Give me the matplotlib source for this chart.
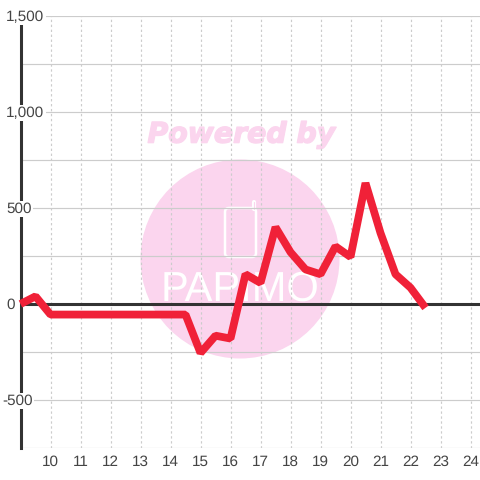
import matplotlib
matplotlib.use("Agg")
import matplotlib.pyplot as plt
import matplotlib.patheffects as pe
from matplotlib.patches import Circle, FancyBboxPatch

# half hour steps, starting at 9:00
hours = [9, 9.5, 10, 10.5, 11, 11.5, 12, 12.5, 13, 13.5, 14, 14.5, 15, 15.5, 16, 16.5,
         17, 17.5, 18, 18.5, 19, 19.5, 20, 20.5, 21, 21.5, 22, 22.5]
values = [0, 40, -55, -55, -55, -55, -55, -55, -55, -55, -55, -55, -255, -165, -180, 155,
          110, 400, 270, 180, 155, 300, 245, 630, 370, 155, 85, -20]

x_ticks = list(range(10, 25))
y_major = [-500, 0, 500, 1000, 1500]
y_labels = ["-500", "0", "500", "1,000", "1,500"]
y_minor = [-750, -250, 250, 750, 1250]

PINK = "#fbd5ee"
GRID = "#cccccc"
DARK = "#333333"
RED = "#f02138"

plt.rcParams["font.family"] = ["Liberation Sans", "DejaVu Sans"]
plt.rcParams["text.hinting"] = "none"

fig = plt.figure(figsize=(4.8, 4.8), dpi=100)

# watermark lives in its own pixel-space axes under the chart
bg = fig.add_axes([0, 0, 1, 1])
bg.set_xlim(0, 480)
bg.set_ylim(480, 0)
bg.axis("off")
bg.add_patch(Circle((240, 259), 99.5, fc=PINK, ec="none"))
bg.text(241.5, 135, "Powered by", color=PINK, fontsize=20.4, fontweight="bold", fontstyle="italic",
        family="DejaVu Sans", ha="center", va="center",
        path_effects=[pe.withStroke(linewidth=1, foreground=PINK)])
bg.add_patch(FancyBboxPatch((225, 208), 31, 49, boxstyle="round,pad=0,rounding_size=4",
                            fc="none", ec="white", lw=1.8))
bg.plot([253.5, 253.5], [209, 202], color="white", lw=3, solid_capstyle="round")
bg.plot([253.5, 253.5], [209, 202], color=PINK, lw=0.8, solid_capstyle="round")
bg.text(240, 290, "PAPIMO", color="white", fontsize=30, family=["Liberation Sans Narrow", "Liberation Sans"],
        ha="center", va="center")

ax = fig.add_axes([20.5 / 480, (480 - 448) / 480, (480 - 20.5) / 480, (448 - 16) / 480])
ax.patch.set_alpha(0)
ax.set_xlim(9, 9 + (480 - 20.5) / 30)
ax.set_ylim(-750, 1500)

ax.set_xticks(x_ticks)
ax.set_yticks(y_major)
ax.set_yticks(y_minor, minor=True)
ax.set_yticklabels([])
ax.grid(True, which="major", axis="x", color=GRID, lw=0.85, ls=(0, (2, 2.2)))
ax.grid(True, which="both", axis="y", color=GRID, lw=0.85)
ax.tick_params(which="both", length=0)
ax.tick_params(axis="x", labelsize=11, labelcolor="#444444", pad=5)
ax.set_axisbelow(True)

for side in ["top", "right", "bottom"]:
    ax.spines[side].set_visible(False)
ax.spines["left"].set_color(DARK)
ax.spines["left"].set_linewidth(2.2)

ax.axhline(0, color=DARK, lw=2.2, zorder=2)

# y labels sit on top of the axis line with a white box behind them
for v, lab in zip(y_major, y_labels):
    dx = -18.5 if lab == "-500" else -14.5
    ax.annotate(lab, xy=(0, v), xycoords=ax.get_yaxis_transform(), xytext=(dx * 0.72, -0.8),
                textcoords="offset points", ha="left", va="center", fontsize=11, color="#444444",
                zorder=2.6, annotation_clip=False,
                bbox=dict(fc="white", ec="none", pad=1))

ax.plot(hours, values, color=RED, lw=5.6, solid_joinstyle="bevel", solid_capstyle="butt",
        zorder=3, clip_on=False)

fig.savefig("out.png", dpi=100)
